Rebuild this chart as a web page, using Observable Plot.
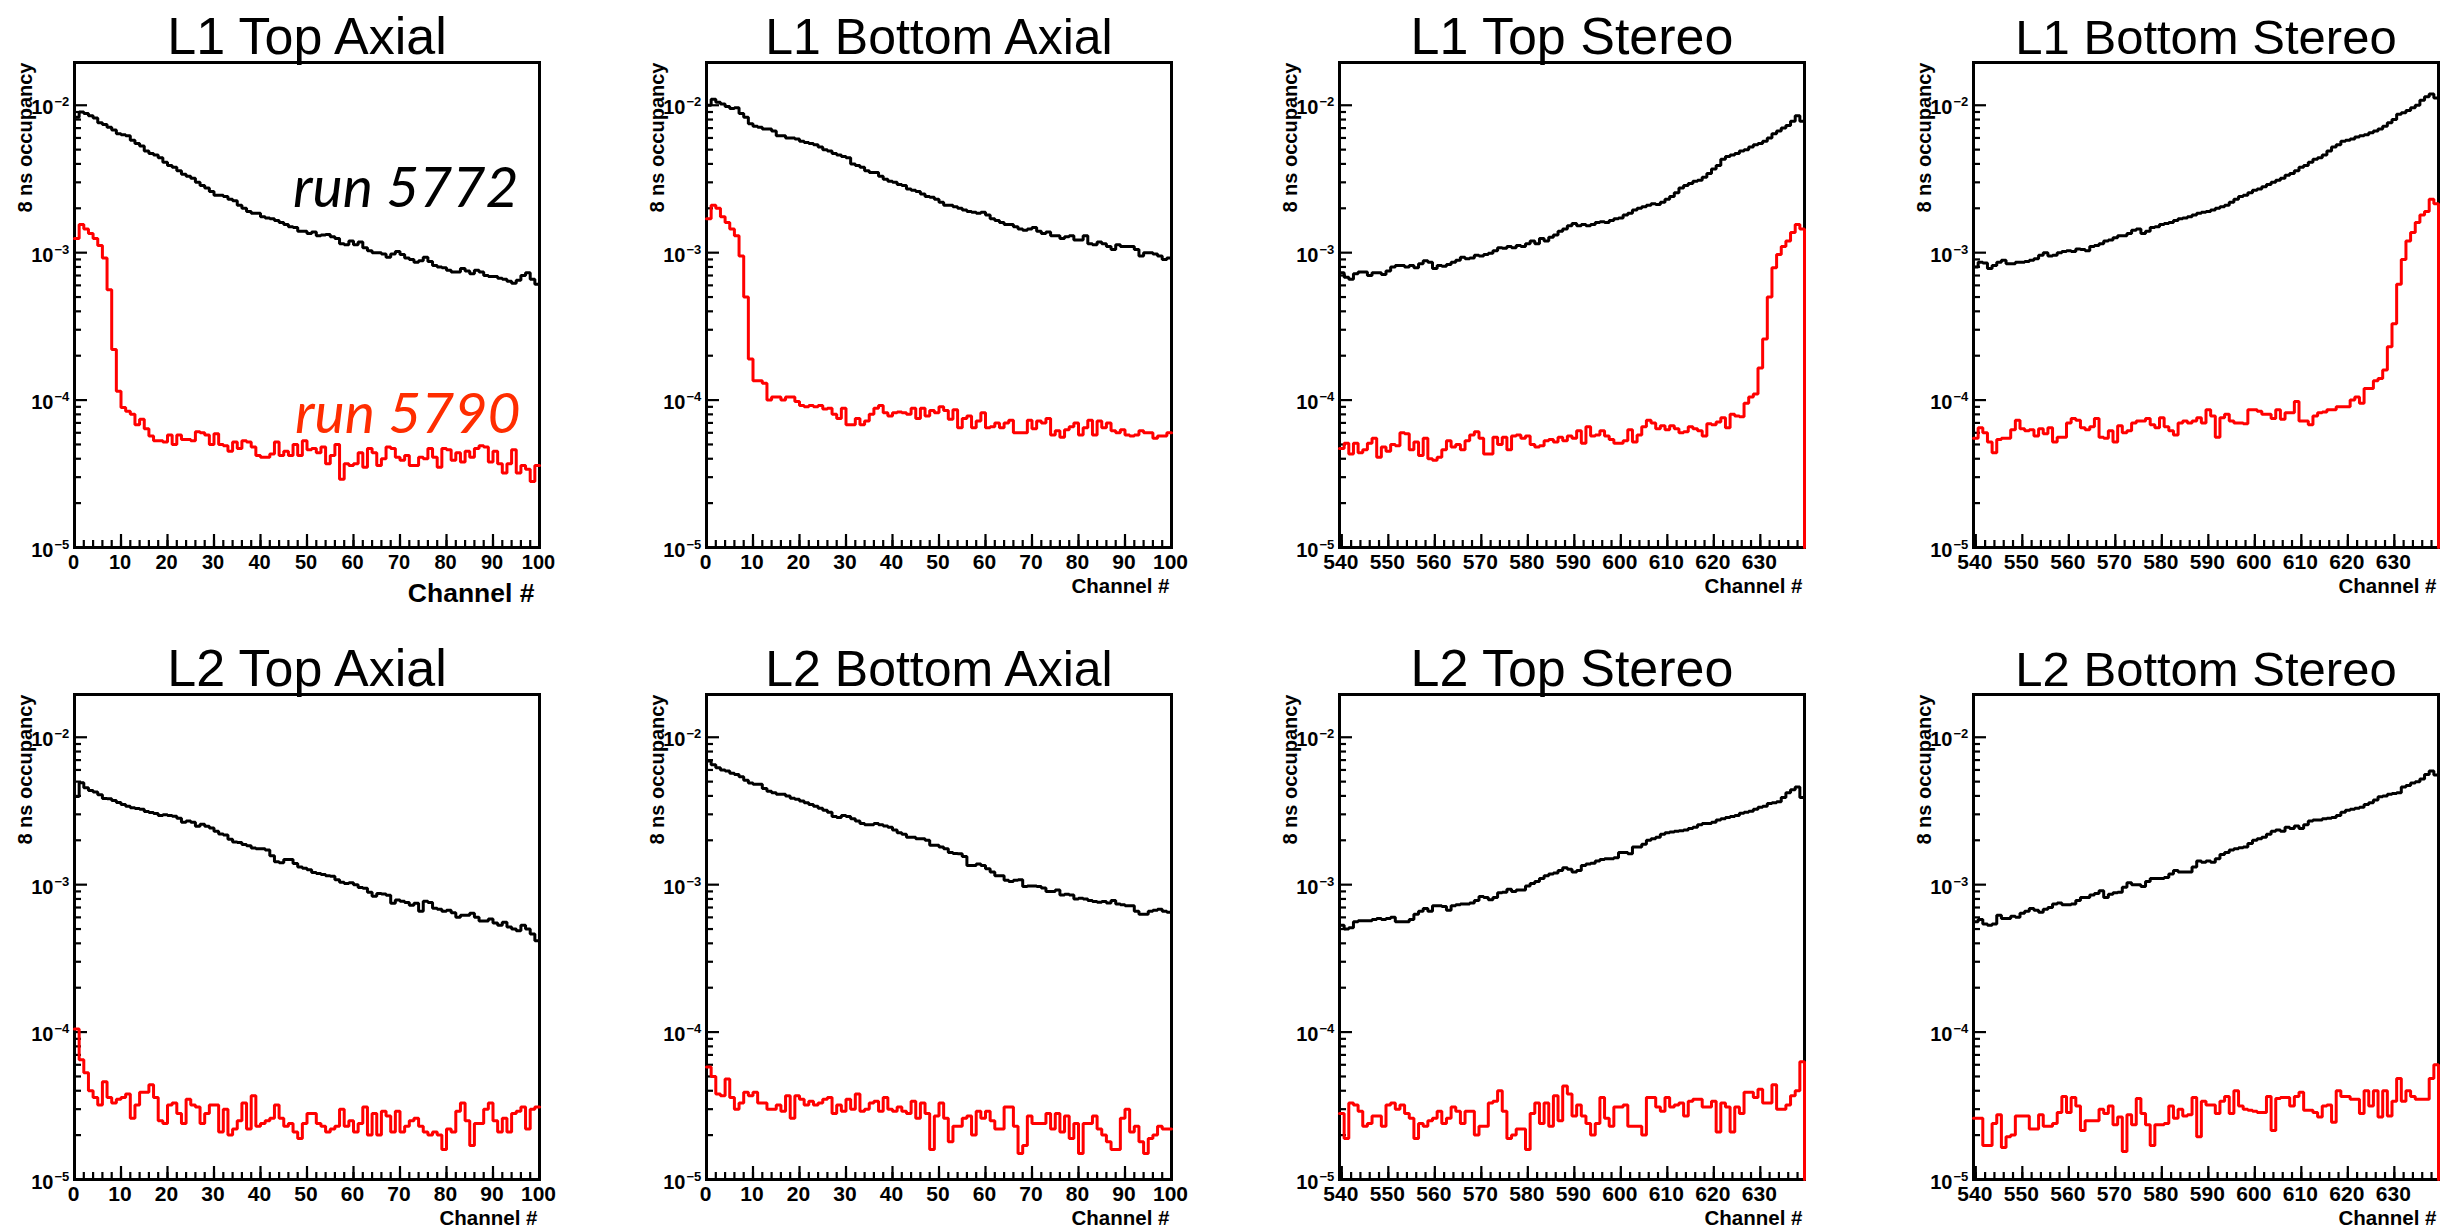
<!DOCTYPE html>
<html><head><meta charset="utf-8">
<script src="https://cdn.jsdelivr.net/npm/d3@7"></script>
<script src="https://cdn.jsdelivr.net/npm/@observablehq/plot@0.6"></script>
<style>
html,body{margin:0;padding:0;background:#fff;}
#root{position:relative;width:2454px;height:1227px;overflow:hidden;background:#fff;}
.panel{position:absolute;}
</style></head><body><div id="root"></div>
<script>
// ---------- bins / ticks ----------
const axialChannels = d3.range(0, 100);
const stereoChannels = d3.range(540, 640);
const yDomain = [1e-5, 0.0195];
const yMajorTicks = [1e-5, 1e-4, 1e-3, 1e-2];
const yMajorExps = ["\u22125", "\u22124", "\u22123", "\u22122"];
const yMinorTicks = [2e-5,3e-5,4e-5,5e-5,6e-5,7e-5,8e-5,9e-5,2e-4,3e-4,4e-4,5e-4,6e-4,7e-4,8e-4,9e-4,2e-3,3e-3,4e-3,5e-3,6e-3,7e-3,8e-3,9e-3];
const axialMajorTicks = [0,10,20,30,40,50,60,70,80,90,100];
const axialMinorTicks = d3.range(0, 101, 2);
const stereoMajorTicks = [540,550,560,570,580,590,600,610,620,630];
const stereoMinorTicks = d3.range(540, 640, 2);
const panelTitles = ["L1 Top Axial","L1 Bottom Axial","L1 Top Stereo","L1 Bottom Stereo","L2 Top Axial","L2 Bottom Axial","L2 Top Stereo","L2 Bottom Stereo"];
const titleSizes = [52, 50, 52, 49, 52, 50, 52, 49];
const runLabels = ["run 5772", "run 5790"];

// ---------- series: run 5772 (black) and run 5790 (red) ----------
const L1TopAxial_5772 = [
8.3e-3,9.0e-3,8.8e-3,8.5e-3,8.2e-3,7.6e-3,7.4e-3,7.1e-3,6.8e-3,6.4e-3,
6.3e-3,6.2e-3,5.8e-3,5.5e-3,5.3e-3,4.9e-3,4.7e-3,4.6e-3,4.4e-3,4.1e-3,
3.9e-3,3.8e-3,3.6e-3,3.4e-3,3.3e-3,3.2e-3,3.0e-3,2.85e-3,2.75e-3,2.6e-3,
2.45e-3,2.45e-3,2.4e-3,2.3e-3,2.25e-3,2.1e-3,2.0e-3,1.9e-3,1.85e-3,1.85e-3,
1.75e-3,1.72e-3,1.7e-3,1.65e-3,1.6e-3,1.55e-3,1.5e-3,1.48e-3,1.4e-3,1.4e-3,
1.35e-3,1.38e-3,1.3e-3,1.32e-3,1.33e-3,1.28e-3,1.25e-3,1.15e-3,1.13e-3,1.2e-3,
1.13e-3,1.18e-3,1.08e-3,1.03e-3,1.0e-3,1.0e-3,0.98e-3,0.93e-3,0.98e-3,1.02e-3,
0.97e-3,0.92e-3,0.9e-3,0.86e-3,0.88e-3,0.93e-3,0.87e-3,0.82e-3,0.8e-3,0.79e-3,
0.76e-3,0.74e-3,0.74e-3,0.78e-3,0.75e-3,0.72e-3,0.76e-3,0.74e-3,0.7e-3,0.69e-3,
0.69e-3,0.67e-3,0.66e-3,0.64e-3,0.62e-3,0.65e-3,0.7e-3,0.73e-3,0.66e-3,0.61e-3];
const L1TopAxial_5790 = [
1.25e-3,1.55e-3,1.45e-3,1.35e-3,1.25e-3,1.12e-3,0.92e-3,0.56e-3,0.22e-3,1.15e-4,
8.9e-5,8.4e-5,8.0e-5,6.8e-5,7.4e-5,6.4e-5,5.7e-5,5.3e-5,5.3e-5,5.2e-5,
5.8e-5,5.0e-5,5.8e-5,5.4e-5,5.4e-5,5.3e-5,6.1e-5,6.0e-5,5.8e-5,5.0e-5,
5.9e-5,5.0e-5,4.9e-5,4.5e-5,5.2e-5,4.7e-5,5.3e-5,5.2e-5,4.8e-5,4.2e-5,
4.1e-5,4.1e-5,4.3e-5,5.2e-5,4.2e-5,4.5e-5,4.2e-5,5.0e-5,4.2e-5,5.3e-5,
4.6e-5,4.7e-5,4.4e-5,4.8e-5,3.7e-5,4.2e-5,5.0e-5,2.9e-5,3.7e-5,3.6e-5,
3.7e-5,4.4e-5,3.5e-5,4.7e-5,4.4e-5,3.6e-5,4.0e-5,4.8e-5,4.7e-5,4.1e-5,
3.9e-5,4.2e-5,3.6e-5,3.6e-5,4.1e-5,4.0e-5,4.7e-5,4.1e-5,3.5e-5,4.7e-5,
4.6e-5,3.9e-5,4.4e-5,3.8e-5,4.5e-5,4.1e-5,4.7e-5,4.9e-5,4.8e-5,3.8e-5,
4.5e-5,3.7e-5,3.2e-5,3.7e-5,4.6e-5,3.2e-5,3.6e-5,3.4e-5,2.8e-5,3.6e-5];
const L1BottomAxial_5772 = [
1.0e-2,1.1e-2,1.05e-2,1.02e-2,9.8e-3,9.5e-3,9.6e-3,8.8e-3,8.3e-3,7.5e-3,
7.2e-3,7.1e-3,6.9e-3,6.9e-3,6.7e-3,6.2e-3,6.2e-3,6.0e-3,6.0e-3,5.9e-3,
5.7e-3,5.6e-3,5.5e-3,5.4e-3,5.2e-3,5.0e-3,4.9e-3,4.7e-3,4.6e-3,4.5e-3,
4.4e-3,4.0e-3,3.9e-3,3.8e-3,3.6e-3,3.5e-3,3.5e-3,3.3e-3,3.15e-3,3.05e-3,
3.0e-3,2.9e-3,2.85e-3,2.7e-3,2.65e-3,2.6e-3,2.5e-3,2.4e-3,2.38e-3,2.3e-3,
2.2e-3,2.1e-3,2.1e-3,2.05e-3,2.0e-3,1.95e-3,1.9e-3,1.88e-3,1.85e-3,1.88e-3,
1.8e-3,1.7e-3,1.65e-3,1.6e-3,1.55e-3,1.55e-3,1.5e-3,1.45e-3,1.42e-3,1.45e-3,
1.48e-3,1.4e-3,1.35e-3,1.38e-3,1.3e-3,1.3e-3,1.25e-3,1.28e-3,1.3e-3,1.22e-3,
1.22e-3,1.3e-3,1.15e-3,1.13e-3,1.18e-3,1.15e-3,1.1e-3,1.05e-3,1.13e-3,1.1e-3,
1.1e-3,1.1e-3,1.05e-3,0.95e-3,1.0e-3,1.0e-3,0.98e-3,0.95e-3,0.9e-3,0.92e-3];
const L1BottomAxial_5790 = [
1.7e-3,2.1e-3,2.0e-3,1.75e-3,1.6e-3,1.45e-3,1.3e-3,0.95e-3,0.5e-3,0.19e-3,
1.35e-4,1.35e-4,1.3e-4,1.0e-4,1.05e-4,1.05e-4,1.0e-4,1.05e-4,1.05e-4,0.98e-4,
0.92e-4,0.9e-4,0.92e-4,0.9e-4,0.92e-4,0.87e-4,0.88e-4,0.8e-4,0.75e-4,0.88e-4,
0.68e-4,0.68e-4,0.75e-4,0.68e-4,0.72e-4,0.8e-4,0.88e-4,0.92e-4,0.82e-4,0.78e-4,
0.82e-4,0.83e-4,0.82e-4,0.8e-4,0.88e-4,0.75e-4,0.88e-4,0.78e-4,0.85e-4,0.82e-4,
0.9e-4,0.85e-4,0.74e-4,0.86e-4,0.65e-4,0.75e-4,0.78e-4,0.65e-4,0.72e-4,0.82e-4,
0.65e-4,0.66e-4,0.7e-4,0.65e-4,0.7e-4,0.73e-4,0.6e-4,0.6e-4,0.6e-4,0.73e-4,
0.64e-4,0.72e-4,0.7e-4,0.75e-4,0.58e-4,0.62e-4,0.56e-4,0.63e-4,0.66e-4,0.7e-4,
0.58e-4,0.65e-4,0.73e-4,0.58e-4,0.72e-4,0.65e-4,0.7e-4,0.62e-4,0.6e-4,0.63e-4,
0.58e-4,0.57e-4,0.58e-4,0.62e-4,0.6e-4,0.6e-4,0.55e-4,0.57e-4,0.57e-4,0.6e-4];
const L1TopStereo_5772 = [
7.3e-4,6.8e-4,6.6e-4,7.2e-4,7.4e-4,7.4e-4,7.0e-4,7.3e-4,7.3e-4,7.1e-4,
7.5e-4,8.0e-4,8.2e-4,8.2e-4,8.0e-4,8.2e-4,7.9e-4,8.4e-4,8.8e-4,8.6e-4,
7.8e-4,8.2e-4,8.1e-4,8.3e-4,8.6e-4,8.9e-4,9.3e-4,9.1e-4,9.2e-4,9.6e-4,
9.5e-4,9.7e-4,9.9e-4,1.03e-3,1.08e-3,1.07e-3,1.1e-3,1.08e-3,1.12e-3,1.1e-3,
1.15e-3,1.2e-3,1.15e-3,1.25e-3,1.2e-3,1.27e-3,1.32e-3,1.4e-3,1.45e-3,1.52e-3,
1.58e-3,1.52e-3,1.55e-3,1.52e-3,1.55e-3,1.6e-3,1.62e-3,1.6e-3,1.65e-3,1.7e-3,
1.72e-3,1.8e-3,1.85e-3,1.95e-3,2.0e-3,2.05e-3,2.1e-3,2.15e-3,2.12e-3,2.2e-3,
2.3e-3,2.4e-3,2.55e-3,2.75e-3,2.85e-3,2.95e-3,3.05e-3,3.1e-3,3.25e-3,3.45e-3,
3.7e-3,3.9e-3,4.3e-3,4.5e-3,4.6e-3,4.7e-3,4.9e-3,5.0e-3,5.2e-3,5.4e-3,
5.5e-3,5.7e-3,6.0e-3,6.4e-3,6.7e-3,7.0e-3,7.3e-3,7.8e-3,8.5e-3,7.8e-3];
const L1TopStereo_5790 = [
4.7e-5,5.1e-5,4.3e-5,5.1e-5,4.4e-5,4.6e-5,5.1e-5,5.5e-5,4.1e-5,4.8e-5,
4.5e-5,5.0e-5,4.9e-5,6.0e-5,5.9e-5,4.6e-5,5.2e-5,4.2e-5,5.5e-5,4.0e-5,
3.9e-5,4.1e-5,4.6e-5,5.3e-5,4.8e-5,5.0e-5,4.6e-5,5.3e-5,5.8e-5,6.1e-5,
5.5e-5,4.3e-5,4.3e-5,5.6e-5,5.0e-5,5.6e-5,4.6e-5,5.7e-5,5.8e-5,5.5e-5,
5.7e-5,5.0e-5,4.8e-5,4.9e-5,5.3e-5,5.4e-5,5.2e-5,5.6e-5,5.3e-5,5.7e-5,
5.5e-5,6.2e-5,5.1e-5,6.6e-5,5.7e-5,5.8e-5,6.2e-5,5.7e-5,5.4e-5,5.1e-5,
5.1e-5,5.3e-5,6.3e-5,5.2e-5,5.8e-5,6.6e-5,7.3e-5,7.0e-5,6.4e-5,6.7e-5,
6.3e-5,6.7e-5,6.4e-5,6.0e-5,6.1e-5,6.6e-5,6.4e-5,6.2e-5,5.7e-5,6.9e-5,
6.8e-5,7.1e-5,7.6e-5,6.5e-5,8.0e-5,7.8e-5,7.7e-5,9.5e-5,1.05e-4,1.1e-4,
1.65e-4,2.6e-4,5.0e-4,7.9e-4,9.7e-4,1.1e-3,1.2e-3,1.37e-3,1.55e-3,1.45e-3];
const L1BottomStereo_5772 = [
8.0e-4,8.6e-4,8.5e-4,7.8e-4,8.2e-4,8.6e-4,8.9e-4,8.4e-4,8.4e-4,8.6e-4,
8.6e-4,8.7e-4,8.9e-4,9.1e-4,9.6e-4,1.0e-3,9.5e-4,9.6e-4,1.0e-3,1.02e-3,
1.03e-3,1.02e-3,1.06e-3,1.05e-3,1.03e-3,1.1e-3,1.12e-3,1.15e-3,1.2e-3,1.22e-3,
1.26e-3,1.3e-3,1.3e-3,1.35e-3,1.42e-3,1.45e-3,1.35e-3,1.4e-3,1.48e-3,1.5e-3,
1.55e-3,1.58e-3,1.6e-3,1.65e-3,1.7e-3,1.72e-3,1.75e-3,1.8e-3,1.85e-3,1.88e-3,
1.9e-3,1.95e-3,2.0e-3,2.05e-3,2.1e-3,2.2e-3,2.3e-3,2.4e-3,2.45e-3,2.55e-3,
2.65e-3,2.7e-3,2.8e-3,2.9e-3,3.0e-3,3.1e-3,3.2e-3,3.35e-3,3.45e-3,3.6e-3,
3.8e-3,3.9e-3,4.1e-3,4.3e-3,4.4e-3,4.6e-3,4.9e-3,5.2e-3,5.4e-3,5.7e-3,
5.8e-3,5.9e-3,6.1e-3,6.2e-3,6.3e-3,6.5e-3,6.7e-3,6.9e-3,7.2e-3,7.6e-3,
8.0e-3,8.7e-3,8.9e-3,9.2e-3,9.6e-3,1.0e-2,1.08e-2,1.14e-2,1.19e-2,1.12e-2];
const L1BottomStereo_5790 = [
5.5e-5,6.5e-5,6.0e-5,5.2e-5,4.4e-5,5.4e-5,5.5e-5,5.5e-5,6.3e-5,7.3e-5,
6.4e-5,6.2e-5,6.3e-5,5.7e-5,6.4e-5,5.9e-5,6.5e-5,5.2e-5,5.6e-5,5.6e-5,
7.0e-5,7.5e-5,7.3e-5,6.5e-5,6.3e-5,6.6e-5,7.5e-5,5.6e-5,5.5e-5,6.2e-5,
5.2e-5,6.7e-5,6.0e-5,6.2e-5,7.0e-5,7.2e-5,7.2e-5,7.5e-5,6.8e-5,6.5e-5,
7.6e-5,6.6e-5,6.2e-5,5.8e-5,7.0e-5,7.2e-5,7.0e-5,7.2e-5,7.6e-5,7.0e-5,
8.6e-5,7.8e-5,5.6e-5,7.6e-5,8.0e-5,7.2e-5,7.0e-5,7.0e-5,6.9e-5,8.6e-5,
8.6e-5,8.4e-5,8.0e-5,8.0e-5,7.5e-5,8.6e-5,7.4e-5,8.2e-5,8.2e-5,9.8e-5,
7.2e-5,7.2e-5,6.8e-5,7.8e-5,8.2e-5,8.3e-5,8.6e-5,8.6e-5,9.0e-5,9.0e-5,
9.0e-5,1.0e-4,1.05e-4,9.5e-5,1.2e-4,1.2e-4,1.35e-4,1.4e-4,1.6e-4,2.3e-4,
3.3e-4,6.1e-4,9.0e-4,1.2e-3,1.37e-3,1.6e-3,1.8e-3,1.9e-3,2.3e-3,2.15e-3];
const L2TopAxial_5772 = [
3.96e-3,4.92e-3,4.54e-3,4.35e-3,4.26e-3,4.08e-3,3.84e-3,3.82e-3,3.73e-3,3.61e-3,
3.50e-3,3.40e-3,3.33e-3,3.29e-3,3.25e-3,3.13e-3,3.09e-3,3.04e-3,2.95e-3,2.98e-3,
2.95e-3,2.91e-3,2.82e-3,2.65e-3,2.70e-3,2.65e-3,2.49e-3,2.57e-3,2.49e-3,2.42e-3,
2.30e-3,2.21e-3,2.17e-3,2.03e-3,1.95e-3,1.93e-3,1.87e-3,1.84e-3,1.77e-3,1.75e-3,
1.75e-3,1.72e-3,1.57e-3,1.43e-3,1.41e-3,1.48e-3,1.48e-3,1.39e-3,1.32e-3,1.29e-3,
1.26e-3,1.21e-3,1.19e-3,1.17e-3,1.15e-3,1.14e-3,1.08e-3,1.04e-3,1.02e-3,1.03e-3,
1.0e-3,9.57e-4,9.45e-4,8.89e-4,8.36e-4,8.7e-4,8.65e-4,8.48e-4,7.48e-4,7.86e-4,
7.72e-4,7.57e-4,7.26e-4,7.48e-4,6.6e-4,7.72e-4,7.57e-4,6.93e-4,6.8e-4,6.6e-4,
6.7e-4,6.45e-4,6.0e-4,6.2e-4,6.2e-4,6.4e-4,6.0e-4,5.66e-4,5.66e-4,5.85e-4,
5.49e-4,5.3e-4,5.57e-4,5.16e-4,5.0e-4,4.86e-4,5.3e-4,5.0e-4,4.63e-4,4.16e-4];
const L2TopAxial_5790 = [
1.05e-4,6.5e-5,5.3e-5,4.0e-5,3.6e-5,3.2e-5,4.6e-5,3.6e-5,3.3e-5,3.5e-5,
3.6e-5,3.8e-5,2.6e-5,3.2e-5,3.9e-5,3.9e-5,4.4e-5,3.6e-5,2.5e-5,2.4e-5,
3.2e-5,3.3e-5,2.8e-5,2.4e-5,3.5e-5,3.2e-5,3.1e-5,2.4e-5,2.8e-5,3.2e-5,
3.2e-5,2.1e-5,3.0e-5,2.0e-5,2.2e-5,2.5e-5,3.3e-5,2.2e-5,3.7e-5,2.3e-5,
2.4e-5,2.5e-5,2.6e-5,3.2e-5,2.6e-5,2.3e-5,2.4e-5,2.1e-5,1.9e-5,2.4e-5,
2.8e-5,2.8e-5,2.4e-5,2.3e-5,2.1e-5,2.2e-5,2.3e-5,3.0e-5,2.3e-5,2.5e-5,
2.1e-5,2.4e-5,3.1e-5,2.0e-5,2.8e-5,2.0e-5,2.9e-5,2.7e-5,2.1e-5,2.9e-5,
2.1e-5,2.3e-5,2.5e-5,2.6e-5,2.3e-5,2.1e-5,2.0e-5,2.1e-5,2.0e-5,1.6e-5,
2.2e-5,2.1e-5,2.9e-5,3.3e-5,2.5e-5,1.7e-5,2.4e-5,2.4e-5,3.0e-5,3.3e-5,
2.5e-5,2.1e-5,2.6e-5,2.1e-5,2.8e-5,2.9e-5,3.1e-5,2.2e-5,3.0e-5,3.1e-5];
const L2BottomAxial_5772 = [
6.9e-3,6.5e-3,6.2e-3,6.0e-3,5.9e-3,5.7e-3,5.6e-3,5.4e-3,5.1e-3,4.9e-3,
4.8e-3,4.8e-3,4.5e-3,4.3e-3,4.2e-3,4.1e-3,4.1e-3,4.0e-3,3.85e-3,3.8e-3,
3.7e-3,3.6e-3,3.5e-3,3.4e-3,3.3e-3,3.2e-3,3.1e-3,2.9e-3,2.85e-3,2.95e-3,
2.9e-3,2.8e-3,2.7e-3,2.6e-3,2.55e-3,2.55e-3,2.6e-3,2.55e-3,2.5e-3,2.45e-3,
2.35e-3,2.25e-3,2.2e-3,2.1e-3,2.1e-3,2.05e-3,2.05e-3,2.0e-3,1.85e-3,1.85e-3,
1.8e-3,1.75e-3,1.65e-3,1.63e-3,1.62e-3,1.55e-3,1.35e-3,1.35e-3,1.38e-3,1.35e-3,
1.28e-3,1.22e-3,1.15e-3,1.15e-3,1.07e-3,1.05e-3,1.07e-3,1.08e-3,0.97e-3,0.98e-3,
0.98e-3,0.97e-3,0.95e-3,0.9e-3,0.9e-3,0.92e-3,0.85e-3,0.86e-3,0.85e-3,0.8e-3,
0.81e-3,0.8e-3,0.78e-3,0.77e-3,0.76e-3,0.77e-3,0.75e-3,0.78e-3,0.74e-3,0.73e-3,
0.72e-3,0.72e-3,0.66e-3,0.63e-3,0.63e-3,0.66e-3,0.67e-3,0.68e-3,0.66e-3,0.65e-3];
const L2BottomAxial_5790 = [
5.8e-5,5.0e-5,3.8e-5,3.7e-5,4.8e-5,3.6e-5,3.0e-5,3.3e-5,3.9e-5,3.7e-5,
3.9e-5,3.3e-5,3.3e-5,3.0e-5,3.0e-5,3.2e-5,2.9e-5,3.7e-5,2.6e-5,3.7e-5,
3.5e-5,3.2e-5,3.4e-5,3.2e-5,3.3e-5,3.5e-5,3.6e-5,2.8e-5,3.2e-5,2.9e-5,
3.5e-5,3.0e-5,3.8e-5,2.9e-5,3.0e-5,3.3e-5,3.4e-5,2.9e-5,3.6e-5,3.0e-5,
2.9e-5,3.1e-5,2.9e-5,2.8e-5,3.4e-5,2.6e-5,3.3e-5,2.8e-5,1.6e-5,2.7e-5,
3.3e-5,2.6e-5,1.8e-5,2.3e-5,2.3e-5,2.6e-5,2.7e-5,2.0e-5,2.9e-5,2.6e-5,
2.9e-5,2.5e-5,2.2e-5,2.2e-5,3.1e-5,3.1e-5,2.3e-5,1.5e-5,1.7e-5,2.7e-5,
2.4e-5,2.4e-5,2.4e-5,2.8e-5,2.2e-5,2.8e-5,2.1e-5,2.7e-5,1.9e-5,2.4e-5,
1.5e-5,2.4e-5,2.4e-5,2.7e-5,2.2e-5,2.0e-5,1.8e-5,1.6e-5,1.6e-5,2.6e-5,
3.0e-5,2.1e-5,2.3e-5,1.8e-5,1.5e-5,1.9e-5,2.0e-5,2.3e-5,2.2e-5,2.2e-5];
const L2TopStereo_5772 = [
5.3e-4,5.0e-4,5.1e-4,5.6e-4,5.7e-4,5.7e-4,5.7e-4,5.8e-4,5.9e-4,5.8e-4,
5.9e-4,6.0e-4,5.6e-4,5.6e-4,5.6e-4,5.8e-4,6.3e-4,6.6e-4,6.9e-4,6.6e-4,
7.2e-4,7.2e-4,7.1e-4,6.7e-4,7.2e-4,7.3e-4,7.4e-4,7.4e-4,7.5e-4,7.8e-4,
8.3e-4,8.2e-4,7.9e-4,8.2e-4,8.8e-4,8.9e-4,9.3e-4,9.0e-4,9.2e-4,9.2e-4,
9.8e-4,1.02e-3,1.05e-3,1.1e-3,1.15e-3,1.18e-3,1.2e-3,1.25e-3,1.3e-3,1.27e-3,
1.22e-3,1.25e-3,1.35e-3,1.38e-3,1.4e-3,1.45e-3,1.48e-3,1.5e-3,1.5e-3,1.52e-3,
1.65e-3,1.65e-3,1.62e-3,1.8e-3,1.8e-3,1.88e-3,2.0e-3,2.05e-3,2.1e-3,2.2e-3,
2.25e-3,2.28e-3,2.3e-3,2.32e-3,2.35e-3,2.4e-3,2.45e-3,2.55e-3,2.6e-3,2.6e-3,
2.65e-3,2.75e-3,2.8e-3,2.85e-3,2.9e-3,2.95e-3,3.05e-3,3.1e-3,3.15e-3,3.25e-3,
3.35e-3,3.4e-3,3.55e-3,3.6e-3,3.65e-3,3.9e-3,4.2e-3,4.4e-3,4.6e-3,3.9e-3];
const L2TopStereo_5790 = [
2.8e-5,1.9e-5,3.3e-5,3.2e-5,2.9e-5,2.3e-5,2.4e-5,2.7e-5,2.7e-5,2.3e-5,
3.2e-5,3.3e-5,3.0e-5,3.2e-5,2.8e-5,2.6e-5,1.9e-5,2.4e-5,2.3e-5,2.5e-5,
2.6e-5,2.9e-5,2.4e-5,2.6e-5,3.1e-5,2.9e-5,2.4e-5,2.9e-5,2.9e-5,2.0e-5,
2.3e-5,2.3e-5,3.3e-5,3.4e-5,4.0e-5,2.9e-5,1.9e-5,2.0e-5,2.2e-5,2.2e-5,
1.6e-5,2.8e-5,3.3e-5,2.4e-5,3.3e-5,2.3e-5,3.7e-5,2.5e-5,4.3e-5,3.8e-5,
2.7e-5,3.2e-5,2.7e-5,2.4e-5,2.0e-5,2.4e-5,3.6e-5,2.6e-5,2.3e-5,3.1e-5,
3.1e-5,3.2e-5,2.3e-5,2.3e-5,2.3e-5,2.0e-5,3.6e-5,3.6e-5,3.1e-5,2.9e-5,
3.6e-5,3.1e-5,3.2e-5,3.3e-5,2.7e-5,3.4e-5,3.5e-5,3.5e-5,3.1e-5,3.1e-5,
3.4e-5,2.1e-5,3.3e-5,3.1e-5,2.1e-5,3.1e-5,2.8e-5,3.9e-5,3.9e-5,3.6e-5,
4.1e-5,3.3e-5,3.3e-5,4.4e-5,3.0e-5,3.0e-5,3.2e-5,3.7e-5,4.0e-5,6.3e-5];
const L2BottomStereo_5772 = [
5.6e-4,5.8e-4,5.4e-4,5.3e-4,5.4e-4,6.2e-4,5.9e-4,5.9e-4,6.1e-4,6.0e-4,
6.4e-4,6.6e-4,6.9e-4,6.7e-4,6.5e-4,6.8e-4,7.0e-4,7.4e-4,7.5e-4,7.3e-4,
7.3e-4,7.4e-4,7.8e-4,8.2e-4,8.2e-4,8.5e-4,8.7e-4,9.1e-4,8.2e-4,8.6e-4,
8.8e-4,8.9e-4,9.6e-4,1.03e-3,1.0e-3,1.0e-3,0.97e-3,1.05e-3,1.1e-3,1.1e-3,
1.1e-3,1.12e-3,1.18e-3,1.25e-3,1.22e-3,1.22e-3,1.22e-3,1.32e-3,1.45e-3,1.42e-3,
1.45e-3,1.42e-3,1.5e-3,1.6e-3,1.65e-3,1.72e-3,1.75e-3,1.78e-3,1.8e-3,1.9e-3,
2.0e-3,2.05e-3,2.1e-3,2.2e-3,2.3e-3,2.35e-3,2.3e-3,2.45e-3,2.4e-3,2.5e-3,
2.4e-3,2.55e-3,2.7e-3,2.75e-3,2.75e-3,2.8e-3,2.82e-3,2.85e-3,2.95e-3,3.1e-3,
3.2e-3,3.25e-3,3.3e-3,3.35e-3,3.5e-3,3.6e-3,3.75e-3,3.95e-3,4.0e-3,4.1e-3,
4.15e-3,4.2e-3,4.6e-3,4.7e-3,4.9e-3,5.0e-3,5.2e-3,5.6e-3,5.9e-3,5.55e-3];
const L2BottomStereo_5790 = [
2.6e-5,2.6e-5,1.7e-5,1.7e-5,2.4e-5,2.75e-5,1.65e-5,1.95e-5,2.0e-5,2.7e-5,
2.7e-5,2.7e-5,2.2e-5,2.2e-5,2.75e-5,2.3e-5,2.3e-5,2.4e-5,2.85e-5,3.65e-5,
2.85e-5,3.6e-5,3.15e-5,2.15e-5,2.5e-5,2.5e-5,2.5e-5,3.0e-5,2.8e-5,3.15e-5,
2.35e-5,2.65e-5,1.55e-5,2.75e-5,2.35e-5,3.55e-5,2.8e-5,2.35e-5,1.7e-5,2.35e-5,
2.35e-5,2.4e-5,3.15e-5,2.6e-5,3.0e-5,2.7e-5,2.75e-5,3.6e-5,1.95e-5,3.4e-5,
3.2e-5,3.2e-5,2.8e-5,3.4e-5,3.65e-5,2.8e-5,4.0e-5,3.15e-5,3.0e-5,2.95e-5,
2.9e-5,2.85e-5,2.85e-5,3.65e-5,2.15e-5,3.55e-5,3.6e-5,3.6e-5,3.15e-5,3.65e-5,
3.9e-5,2.95e-5,2.95e-5,2.85e-5,2.65e-5,3.15e-5,3.2e-5,2.45e-5,4.0e-5,3.65e-5,
3.65e-5,3.5e-5,3.5e-5,2.8e-5,4.0e-5,3.15e-5,4.0e-5,2.65e-5,4.0e-5,2.7e-5,
3.4e-5,4.85e-5,3.4e-5,4.0e-5,3.65e-5,3.5e-5,3.5e-5,3.5e-5,4.85e-5,6.0e-5];

// ---------- panel table built from the arrays ----------
const panels = [
  {title: panelTitles[0], kind: "axial", black: L1TopAxial_5772, red: L1TopAxial_5790},
  {title: panelTitles[1], kind: "axial", black: L1BottomAxial_5772, red: L1BottomAxial_5790},
  {title: panelTitles[2], kind: "stereo", black: L1TopStereo_5772, red: L1TopStereo_5790},
  {title: panelTitles[3], kind: "stereo", black: L1BottomStereo_5772, red: L1BottomStereo_5790},
  {title: panelTitles[4], kind: "axial", black: L2TopAxial_5772, red: L2TopAxial_5790},
  {title: panelTitles[5], kind: "axial", black: L2BottomAxial_5772, red: L2BottomAxial_5790},
  {title: panelTitles[6], kind: "stereo", black: L2TopStereo_5772, red: L2TopStereo_5790},
  {title: panelTitles[7], kind: "stereo", black: L2BottomStereo_5772, red: L2BottomStereo_5790}
];

// layout
const frameLefts = [74, 706, 1339, 1973];
const ML = 74, MR = 16, MT = 62, FW = 465, FH = 485;
const rowTops = [0, 632];
const rowMB = [66, 48];

function stepPoints(channels, values, offset, dropTo) {
  const pts = channels.map((c, i) => ({x: c + offset, y: values[i]}));
  const n = channels.length - 1;
  pts.push({x: channels[n] + offset + 1, y: values[n]});
  if (dropTo != null) pts.push({x: channels[n] + offset + 1, y: dropTo});
  return pts;
}

const root = document.getElementById("root");
const FONT = "'Liberation Sans', Arial, Helvetica, sans-serif";

panels.forEach((p, k) => {
  const col = k % 4, row = Math.floor(k / 4);
  const axial = p.kind === "axial";
  const channels = axial ? axialChannels : stereoChannels;
  const offset = axial ? 0 : -0.5;
  const xDomain = axial ? [0, 100] : [539.5, 639.5];
  const xMajor = axial ? axialMajorTicks : stereoMajorTicks;
  const xMinor = axial ? axialMinorTicks : stereoMinorTicks;
  const blackPts = stepPoints(channels, p.black, offset, null);
  const redPts = stepPoints(channels, p.red, offset, axial ? null : yDomain[0]);
  const MB = rowMB[row];
  const first = k === 0;

  const marks = [
    Plot.tickX(xMinor, {x: d => d, stroke: "#000", strokeWidth: 2.2, insetTop: FH - 7}),
    Plot.tickX(xMajor, {x: d => d, stroke: "#000", strokeWidth: 2.2, insetTop: FH - 13}),
    Plot.tickY(yMinorTicks, {y: d => d, stroke: "#000", strokeWidth: 2.2, insetRight: FW - 7}),
    Plot.tickY(yMajorTicks, {y: d => d, stroke: "#000", strokeWidth: 2.2, insetRight: FW - 13}),
    Plot.frame({stroke: "#000", strokeWidth: 3}),
    Plot.line(blackPts, {x: "x", y: "y", curve: "step-after", stroke: "#000", strokeWidth: 3, strokeLinejoin: "miter"}),
    Plot.line(redPts, {x: "x", y: "y", curve: "step-after", stroke: "#ff0000", strokeWidth: 3, strokeLinejoin: "miter"}),
    Plot.text(xMajor, {x: d => d, frameAnchor: "bottom", lineAnchor: "bottom", dy: 21, dx: -1, text: d => String(d), fontSize: first ? 20 : 21, fontWeight: "bold", fill: "#000"}),
    Plot.text(yMajorTicks, {y: d => d, frameAnchor: "left", textAnchor: "end", lineAnchor: "bottom", dx: -21, dy: 9, text: () => "10", fontSize: 20, fontWeight: "bold", fill: "#000"}),
    Plot.text(yMajorTicks, {y: d => d, frameAnchor: "left", textAnchor: "start", lineAnchor: "bottom", dx: -20, dy: 1, text: (d, i) => yMajorExps[i], fontSize: 13, fontWeight: "bold", fill: "#000"}),
    Plot.text(["8 ns occupancy"], {frameAnchor: "top-left", rotate: -90, textAnchor: "end", lineAnchor: "bottom", dx: -43, dy: 0, fontSize: 20, fontWeight: "bold", fill: "#000"}),
    Plot.text(["Channel #"], {frameAnchor: "bottom-right", textAnchor: "end", lineAnchor: "bottom", dx: first ? -5 : -2, dy: first ? 54 : 45, fontSize: first ? 26.5 : 20.5, fontWeight: "bold", fill: "#000"}),
    Plot.text([p.title], {frameAnchor: "top", lineAnchor: "bottom", dy: -9, fontSize: titleSizes[k], fill: "#000"})
  ];
  if (first) {
    marks.push(Plot.text([runLabels[0]], {frameAnchor: "top-right", textAnchor: "end", lineAnchor: "bottom", dx: -21, dy: 144, fontSize: 57, fontStyle: "italic", fontFamily: "Lato, 'Open Sans', sans-serif", fill: "#000"}));
    marks.push(Plot.text([runLabels[1]], {frameAnchor: "top-right", textAnchor: "end", lineAnchor: "bottom", dx: -19, dy: 370, fontSize: 57, fontStyle: "italic", fontFamily: "Lato, 'Open Sans', sans-serif", fill: "#ff2d00"}));
  }

  const chart = Plot.plot({
    width: ML + FW + MR,
    height: MT + FH + MB,
    marginLeft: ML, marginRight: MR, marginTop: MT, marginBottom: MB,
    x: {domain: xDomain, axis: null},
    y: {type: "log", domain: yDomain, axis: null},
    style: {fontFamily: FONT, background: "transparent", overflow: "visible"},
    marks
  });
  const holder = document.createElement("div");
  holder.className = "panel";
  holder.style.left = (frameLefts[col] - ML) + "px";
  holder.style.top = rowTops[row] + "px";
  holder.appendChild(chart);
  root.appendChild(holder);
});
</script>
</body></html>
